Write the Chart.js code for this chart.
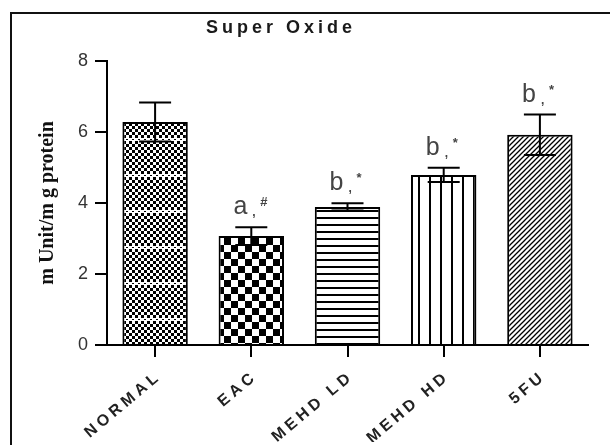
<!DOCTYPE html>
<html>
<head>
<meta charset="utf-8">
<title>Super Oxide</title>
<script src="https://cdn.jsdelivr.net/npm/chart.js@4.4.0/dist/chart.umd.min.js"></script>
<style>
  html, body { margin: 0; padding: 0; background: #fff; }
  #wrap { width: 610px; height: 445px; }
</style>
</head>
<body>
<div id="wrap"><canvas id="soChart" width="610" height="445"></canvas></div>
<script>
// ---- data ----
const groups = ['NORMAL', 'EAC', 'MEHD LD', 'MEHD HD', '5FU'];
const means = [6.28, 3.07, 3.89, 4.79, 5.92];
const sems = [0.55, 0.25, 0.10, 0.20, 0.57];
const sigLetters = ['', 'a', 'b', 'b', 'b'];
const sigMarks = ['', '#', '*', '*', '*'];
const yTicks = [0, 2, 4, 6, 8];

const titleText = 'Super Oxide';
const yTitle = 'm Unit/m g protein';

// ---- hatch fills ----
function makePattern(w, h, paint) {
    const c = document.createElement('canvas');
    c.width = w; c.height = h;
    const g = c.getContext('2d');
    g.fillStyle = '#fff';
    g.fillRect(0, 0, w, h);
    g.fillStyle = '#000';
    g.strokeStyle = '#000';
    paint(g, w, h);
    return document.getElementById('soChart').getContext('2d').createPattern(c, 'repeat');
}

// fine checker with lighter bands
const fineChecker = makePattern(6, 36, (g, w, h) => {
    for (let y = 0; y < h; y += 3) {
        for (let x = 0; x < w; x += 3) {
            if (((x + y) / 3) % 2 === 0) g.fillRect(x, y, 3, 3);
        }
    }
    g.fillStyle = '#fff';
    g.fillRect(0, 30, 6, 3);
    g.fillStyle = '#000';
    g.fillRect(0, 31, 2, 1);
});
// coarse checkerboard
const bigChecker = makePattern(14, 14, (g) => {
    g.fillRect(0, 0, 7, 7);
    g.fillRect(7, 7, 7, 7);
});
// horizontal lines
const hLines = makePattern(8, 7, (g, w) => {
    g.fillRect(0, 0, w, 2);
});
// vertical lines
const vLines = makePattern(11, 8, (g, w, h) => {
    g.fillRect(0, 0, 2, h);
});
// diagonal hatch
const diagLines = makePattern(5, 5, (g) => {
    g.lineWidth = 1.3;
    g.beginPath();
    g.moveTo(-1, 6); g.lineTo(6, -1);
    g.moveTo(-4, 4); g.lineTo(4, -4);
    g.moveTo(1, 9); g.lineTo(9, 1);
    g.stroke();
});
const fills = [fineChecker, bigChecker, hLines, vLines, diagLines];

// ---- category axis with spaced-out letters ----
class SpacedCategoryScale extends Chart.CategoryScale {
    drawLabels(chartArea) {
        this.ctx.save();
        this.ctx.letterSpacing = '4px';
        // cancel the trailing gap that letterSpacing leaves after the last glyph
        this.ctx.translate(4, -3);
        super.drawLabels(chartArea);
        this.ctx.restore();
    }
}
SpacedCategoryScale.id = 'spacedCategory';
SpacedCategoryScale.defaults = Chart.CategoryScale.defaults;
Chart.register(SpacedCategoryScale);

// ---- frame, title, error bars, significance marks ----
const decorPlugin = {
    id: 'decor',
    beforeDraw(chart) {
        const ctx = chart.ctx;
        ctx.save();
        ctx.fillStyle = '#fff';
        ctx.fillRect(0, 0, chart.width, chart.height);
        ctx.restore();
    },
    afterDatasetsDraw(chart) {
        const ctx = chart.ctx;
        const y = chart.scales.y;
        const meta = chart.getDatasetMeta(0);
        ctx.save();
        ctx.strokeStyle = '#000';
        ctx.lineWidth = 2;
        meta.data.forEach((bar, i) => {
            const top = y.getPixelForValue(means[i] + sems[i]);
            const bot = y.getPixelForValue(means[i] - sems[i]);
            const cx = bar.x;
            ctx.beginPath();
            ctx.moveTo(cx, top); ctx.lineTo(cx, bot);
            ctx.moveTo(cx - 16, top); ctx.lineTo(cx + 16, top);
            ctx.moveTo(cx - 16, bot); ctx.lineTo(cx + 16, bot);
            ctx.stroke();

            if (!sigLetters[i]) return;
            const base = top - 13;
            ctx.fillStyle = '#444';
            ctx.textBaseline = 'alphabetic';
            ctx.font = '25px "Liberation Sans Narrow", "Liberation Sans", Arial';
            ctx.textAlign = 'right';
            ctx.fillText(sigLetters[i], cx - 4, base);
            ctx.font = 'bold 12px "Liberation Sans", Arial';
            ctx.textAlign = 'left';
            ctx.fillText(',', cx + 1, base + 2);
            ctx.font = 'bold 13px "Liberation Sans", Arial';
            ctx.fillText(sigMarks[i], cx + 9, base - 8);
        });
        ctx.restore();
    },
    afterDraw(chart) {
        const ctx = chart.ctx;
        ctx.save();
        // outer frame (runs off the right and bottom edges)
        ctx.strokeStyle = '#111';
        ctx.lineWidth = 2;
        ctx.strokeRect(11, 13, 700, 500);
        // title
        ctx.fillStyle = '#1a1a1a';
        ctx.font = 'bold 18px "Liberation Sans", Arial';
        ctx.letterSpacing = '4px';
        ctx.textAlign = 'center';
        ctx.textBaseline = 'middle';
        ctx.fillText(titleText, 281, 28);
        ctx.restore();
    }
};

const chart = new Chart(document.getElementById('soChart'), {
    type: 'bar',
    data: {
        labels: groups,
        datasets: [{
            data: means,
            backgroundColor: fills,
            borderColor: '#000',
            borderWidth: 2,
            borderSkipped: 'bottom',
            categoryPercentage: 1,
            barPercentage: 0.68
        }]
    },
    options: {
        responsive: false,
        animation: false,
        devicePixelRatio: 1,
        layout: { padding: { top: 61, right: 22, bottom: 0, left: 0 } },
        plugins: {
            legend: { display: false },
            tooltip: { enabled: false },
            title: { display: false }
        },
        scales: {
            x: {
                type: 'spacedCategory',
                offset: true,
                afterFit: (s) => { s.height = 100; },
                border: { display: true, color: '#000', width: 2 },
                grid: {
                    offset: false,
                    drawOnChartArea: false,
                    drawTicks: true,
                    tickLength: 12,
                    color: '#000',
                    lineWidth: 2
                },
                ticks: {
                    minRotation: 40,
                    maxRotation: 40,
                    autoSkip: false,
                    padding: 13,
                    color: '#222',
                    font: { family: '"Liberation Sans", Arial', size: 16, weight: 'bold' }
                }
            },
            y: {
                min: 0,
                max: 8,
                afterFit: (s) => { s.width = 107; },
                afterBuildTicks: (s) => { s.ticks = yTicks.map(v => ({ value: v })); },
                border: { display: true, color: '#000', width: 2 },
                grid: {
                    drawOnChartArea: false,
                    drawTicks: true,
                    tickLength: 12,
                    color: '#000',
                    lineWidth: 2
                },
                ticks: {
                    padding: 7,
                    color: '#333',
                    font: { family: '"Liberation Sans Narrow", "Liberation Sans", Arial', size: 18 }
                },
                title: {
                    display: true,
                    text: yTitle,
                    color: '#111',
                    padding: { top: 36, bottom: 0 },
                    font: { family: '"Liberation Serif", "Times New Roman", serif', size: 20, weight: 'bold' }
                }
            }
        }
    },
    plugins: [decorPlugin]
});
</script>
</body>
</html>
